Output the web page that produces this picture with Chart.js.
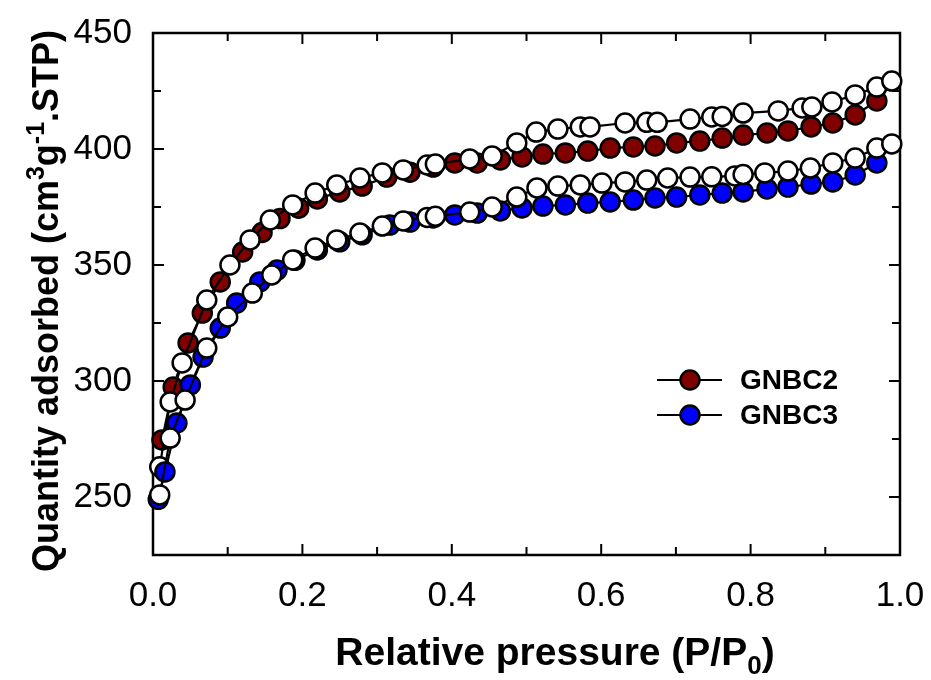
<!DOCTYPE html>
<html>
<head>
<meta charset="utf-8">
<script src="https://cdn.jsdelivr.net/npm/chart.js@4.4.0/dist/chart.umd.min.js"></script>
<style>
  html, body { margin: 0; padding: 0; background: #fff; }
  #wrap { width: 931px; height: 680px; }
</style>
</head>
<body>
<div id="wrap"><canvas id="chart" width="931" height="680"></canvas></div>
<script>
// Изотермы адсорбции/десорбции N2 (GNBC2, GNBC3)

// GNBC2 - адсорбция
const gnbc2AdsP = [0.012, 0.027, 0.047, 0.066, 0.090, 0.120, 0.146, 0.170, 0.195, 0.220, 0.250, 0.280,
  0.313, 0.344, 0.375, 0.404, 0.434, 0.465, 0.494, 0.522, 0.552, 0.582, 0.612, 0.643, 0.672, 0.701,
  0.732, 0.762, 0.790, 0.822, 0.850, 0.881, 0.910, 0.940, 0.969];
const gnbc2AdsQ = [274.6, 297.4, 316.4, 329.3, 342.7, 355.6, 364.0, 370.0, 374.5, 378.5, 381.5, 384.0,
  387.9, 390.0, 392.2, 394.0, 394.0, 395.3, 396.6, 397.8, 398.3, 399.1, 400.4, 400.9, 401.3, 402.6,
  403.4, 404.7, 406.0, 406.9, 407.8, 409.5, 411.2, 414.7, 420.7];

// GNBC2 - десорбция
const gnbc2DesP = [0.009, 0.023, 0.039, 0.072, 0.103, 0.130, 0.157, 0.187, 0.217, 0.246, 0.277, 0.307,
  0.335, 0.367, 0.378, 0.424, 0.454, 0.487, 0.513, 0.542, 0.572, 0.585, 0.632, 0.661, 0.675, 0.719,
  0.748, 0.762, 0.790, 0.837, 0.869, 0.882, 0.909, 0.940, 0.969, 0.989];
const gnbc2DesQ = [263.0, 291.0, 307.8, 334.9, 350.0, 360.8, 369.4, 375.9, 381.0, 384.5, 387.5, 389.7,
  391.0, 393.1, 393.5, 395.7, 397.0, 402.6, 407.3, 408.6, 409.5, 409.5, 411.2, 411.5, 411.5, 412.9,
  413.8, 414.0, 415.5, 416.4, 417.7, 418.1, 420.3, 423.3, 426.7, 429.3];

// GNBC3 - адсорбция
const gnbc3AdsP = [0.007, 0.016, 0.032, 0.050, 0.067, 0.090, 0.112, 0.143, 0.166, 0.190, 0.220, 0.250,
  0.280, 0.317, 0.344, 0.375, 0.404, 0.434, 0.465, 0.494, 0.522, 0.552, 0.582, 0.612, 0.643, 0.672,
  0.701, 0.732, 0.762, 0.790, 0.822, 0.850, 0.881, 0.910, 0.940, 0.969];
const gnbc3AdsQ = [249.0, 260.8, 281.9, 298.3, 310.3, 322.8, 333.6, 342.7, 347.8, 352.0, 356.5, 360.0,
  363.0, 367.2, 368.5, 370.3, 371.6, 372.4, 373.3, 374.6, 375.4, 375.9, 376.7, 377.2, 378.0, 378.9,
  379.3, 380.2, 381.0, 381.5, 382.8, 383.6, 384.9, 385.8, 388.8, 394.0];

// GNBC3 - десорбция
const gnbc3DesP = [0.009, 0.023, 0.043, 0.072, 0.100, 0.133, 0.159, 0.187, 0.217, 0.246, 0.277, 0.307,
  0.335, 0.367, 0.378, 0.424, 0.454, 0.487, 0.514, 0.542, 0.572, 0.601, 0.632, 0.661, 0.689, 0.719,
  0.748, 0.779, 0.790, 0.819, 0.850, 0.880, 0.910, 0.940, 0.969, 0.989];
const gnbc3DesQ = [250.9, 275.4, 291.8, 314.2, 327.6, 337.9, 345.7, 352.2, 357.3, 360.8, 363.8, 366.8,
  369.0, 370.5, 371.0, 372.8, 375.0, 379.3, 383.2, 384.0, 384.5, 385.3, 385.8, 386.6, 387.5, 387.9,
  388.0, 388.4, 389.0, 389.7, 390.5, 391.8, 394.0, 396.1, 400.4, 402.2];

// Оси
const xMin = 0, xMax = 1.0, xStep = 0.1;
const yMin = 225, yMax = 450, yStep = 25;
const legendLabels = ['GNBC2', 'GNBC3'];

const FONT = '"Liberation Sans", Arial, Helvetica, sans-serif';

function toPoints(px, qy) {
    return px.map((p, i) => ({ x: p, y: qy[i] }));
}

function series(label, px, qy, fill, order) {
    return {
        label: label,
        data: toPoints(px, qy),
        borderColor: '#000',
        borderWidth: 2.2,
        backgroundColor: fill,
        pointBackgroundColor: fill,
        pointBorderColor: '#000',
        pointBorderWidth: 2.5,
        pointRadius: 9.5,
        pointHoverRadius: 9.5,
        showLine: true,
        tension: 0,
        clip: false,
        order: order
    };
}

// Текст с верхними/нижними индексами
function drawRich(ctx, parts, x, y, rotate) {
    ctx.save();
    ctx.translate(x, y);
    if (rotate) ctx.rotate(-Math.PI / 2);
    ctx.textBaseline = 'alphabetic';
    ctx.textAlign = 'left';
    ctx.fillStyle = '#000';
    let total = 0;
    parts.forEach(p => {
        ctx.font = 'bold ' + p.size + 'px ' + FONT;
        p.w = ctx.measureText(p.t).width;
        total += p.w;
    });
    let cx = -total / 2;
    parts.forEach(p => {
        ctx.font = 'bold ' + p.size + 'px ' + FONT;
        ctx.fillText(p.t, cx, p.dy || 0);
        cx += p.w;
    });
    ctx.restore();
}

const framePlugin = {
    id: 'framePlugin',
    beforeDatasetsDraw(chart) {
        const ctx = chart.ctx;
        const a = chart.chartArea;
        const xs = chart.scales.x, ys = chart.scales.y;
        ctx.save();
        ctx.strokeStyle = '#000';
        ctx.lineWidth = 2.5;
        ctx.strokeRect(a.left, a.top, a.right - a.left, a.bottom - a.top);
        ctx.lineWidth = 2;
        // засечки внутрь
        xs.ticks.forEach(t => {
            const px = xs.getPixelForValue(t.value);
            const major = Math.round(t.value * 10) % 2 === 0;
            const len = major ? 11 : 8;
            ctx.beginPath();
            ctx.moveTo(px, a.bottom); ctx.lineTo(px, a.bottom - len);
            ctx.moveTo(px, a.top); ctx.lineTo(px, a.top + len);
            ctx.stroke();
        });
        ys.ticks.forEach(t => {
            const py = ys.getPixelForValue(t.value);
            const major = t.value % 50 === 0;
            const len = major ? 11 : 8;
            ctx.beginPath();
            ctx.moveTo(a.left, py); ctx.lineTo(a.left + len, py);
            ctx.moveTo(a.right, py); ctx.lineTo(a.right - len, py);
            ctx.stroke();
        });
        ctx.restore();
    },
    afterDraw(chart) {
        const ctx = chart.ctx;
        // подписи осей
        drawRich(ctx, [
            { t: 'Relative pressure (P/P', size: 39 },
            { t: '0', size: 26, dy: 9 },
            { t: ')', size: 39 }
        ], 555, 665, false);
        drawRich(ctx, [
            { t: 'Quantity adsorbed (cm', size: 36 },
            { t: '3', size: 25, dy: -14 },
            { t: 'g', size: 36 },
            { t: '-1', size: 25, dy: -14 },
            { t: '.STP)', size: 36 }
        ], 58, 301, true);

        // легенда
        const fills = ['#800000', '#0000ff'];
        const rows = [380, 415];
        ctx.save();
        rows.forEach((y, i) => {
            ctx.strokeStyle = '#000';
            ctx.lineWidth = 2.2;
            ctx.beginPath();
            ctx.moveTo(657, y); ctx.lineTo(722, y);
            ctx.stroke();
            ctx.beginPath();
            ctx.arc(690, y, 9.5, 0, Math.PI * 2);
            ctx.fillStyle = fills[i];
            ctx.fill();
            ctx.lineWidth = 2.5;
            ctx.stroke();
            ctx.fillStyle = '#000';
            ctx.font = 'bold 28px ' + FONT;
            ctx.textBaseline = 'middle';
            ctx.textAlign = 'left';
            ctx.fillText(legendLabels[i], 740, y + 1);
        });
        ctx.restore();
    }
};

Chart.defaults.font.family = FONT;
Chart.defaults.color = '#000';

new Chart(document.getElementById('chart').getContext('2d'), {
    type: 'scatter',
    data: {
        datasets: [
            series('GNBC2 ads', gnbc2AdsP, gnbc2AdsQ, '#800000', 4),
            series('GNBC2 des', gnbc2DesP, gnbc2DesQ, '#ffffff', 3),
            series('GNBC3 ads', gnbc3AdsP, gnbc3AdsQ, '#0000ff', 2),
            series('GNBC3 des', gnbc3DesP, gnbc3DesQ, '#ffffff', 1)
        ]
    },
    options: {
        responsive: false,
        animation: false,
        events: [],
        layout: { padding: { left: 0, right: 31, top: 33, bottom: 0 } },
        plugins: {
            legend: { display: false },
            tooltip: { enabled: false }
        },
        scales: {
            x: {
                type: 'linear',
                min: xMin,
                max: xMax,
                grid: { display: false, drawTicks: false },
                border: { display: false },
                ticks: {
                    stepSize: xStep,
                    autoSkip: false,
                    maxRotation: 0,
                    padding: 20,
                    font: { size: 35 },
                    callback: v => (Math.round(v * 10) % 2 === 0 ? v.toFixed(1) : '')
                },
                afterFit: s => {
                    s.height = 125;
                    s.paddingLeft = 0;
                    s.paddingRight = 0;
                }
            },
            y: {
                type: 'linear',
                min: yMin,
                max: yMax,
                grid: { display: false, drawTicks: false },
                border: { display: false },
                ticks: {
                    stepSize: yStep,
                    autoSkip: false,
                    padding: 21,
                    font: { size: 35 },
                    callback: v => (v % 50 === 0 ? v : '')
                },
                afterFit: s => {
                    s.width = 153;
                    s.paddingTop = 0;
                    s.paddingBottom = 0;
                }
            }
        }
    },
    plugins: [framePlugin]
});
</script>
</body>
</html>
